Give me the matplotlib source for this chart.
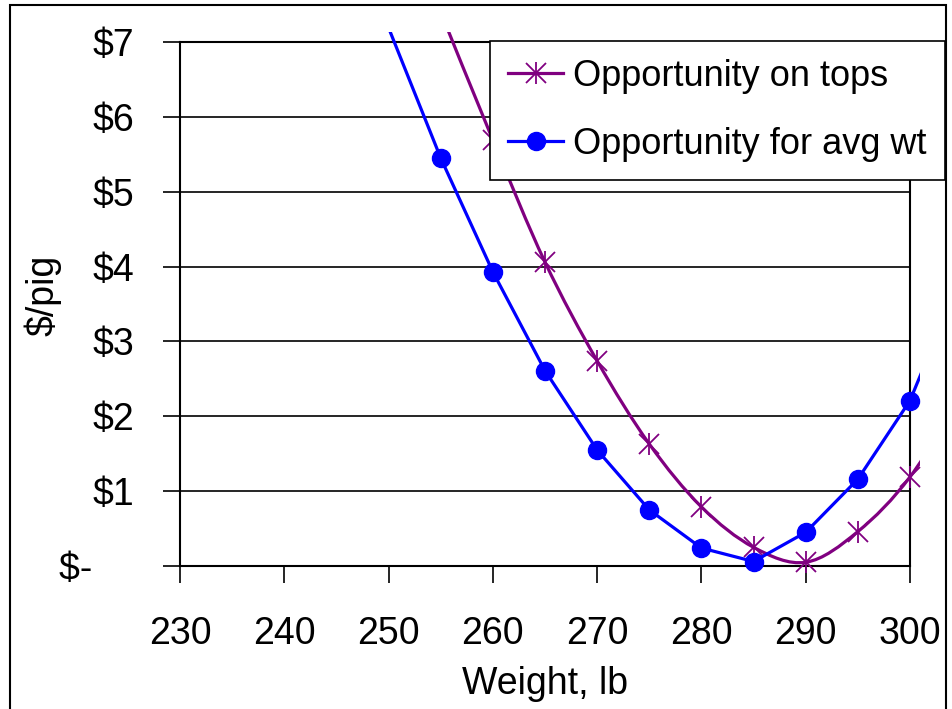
import matplotlib
matplotlib.use("Agg")
import numpy as np
from matplotlib import pyplot as plt
from matplotlib.path import Path
from matplotlib.patches import PathPatch, Rectangle
from matplotlib.lines import Line2D
from matplotlib.transforms import Bbox, TransformedBbox

plt.rcParams["font.family"] = ["Liberation Sans", "DejaVu Sans"]

# weights (lb) and opportunity ($/pig)
tops_wt = [255, 260, 265, 270, 275, 280, 285, 290, 295, 300, 305]
tops_val = [7.40, 5.69, 4.06, 2.74, 1.63, 0.79, 0.25, 0.05, 0.46, 1.19, 2.30]
avg_wt = [250, 255, 260, 265, 270, 275, 280, 285, 290, 295, 300, 305]
avg_val = [7.19, 5.45, 3.93, 2.61, 1.55, 0.75, 0.24, 0.06, 0.45, 1.16, 2.21, 3.90]

x_ticks = [230, 240, 250, 260, 270, 280, 290, 300]
y_ticks = [0, 1, 2, 3, 4, 5, 6, 7]
y_labels = ["$-    ", "$1", "$2", "$3", "$4", "$5", "$6", "$7"]

PURPLE = "#800080"
BLUE = "#0000FF"
LW = 2.3


def smooth_path(xs, ys):
    # Bezier path through the points (Catmull-Rom style control points)
    pts = np.column_stack([xs, ys]).astype(float)
    verts = [pts[0]]
    codes = [Path.MOVETO]
    n = len(pts)
    for i in range(n - 1):
        p0 = pts[i - 1] if i > 0 else pts[i]
        p1, p2 = pts[i], pts[i + 1]
        p3 = pts[i + 2] if i + 2 < n else pts[i + 1]
        verts += [p1 + (p2 - p0) / 6, p2 - (p3 - p1) / 6, p2]
        codes += [Path.CURVE4] * 3
    return Path(verts, codes)


fig = plt.figure(figsize=(9.53, 7.09), dpi=100)
ax = fig.add_axes([180 / 953, 1 - 566 / 709, 730 / 953, 524 / 709])

ax.set_xlim(230, 300)
ax.set_ylim(0, 7)
ax.set_xticks(x_ticks)
ax.set_yticks(y_ticks)
ax.set_yticklabels(y_labels)
ax.tick_params(axis="both", direction="out", length=12, width=1.2, labelsize=27)
ax.tick_params(axis="y", pad=21)
ax.tick_params(axis="x", pad=24)
ax.grid(axis="y", color="black", linewidth=1.2)
ax.set_axisbelow(True)
for s in ax.spines.values():
    s.set_linewidth(1.5)

ax.set_xlabel("Weight, lb", fontsize=27, labelpad=10)
ax.set_ylabel("$/pig", fontsize=27, va="center")
ax.yaxis.set_label_coords((43 - 180) / 730, (566 - 295) / 524)

# lines may run a little past the plot box
line_clip = TransformedBbox(Bbox([[-0.2, -0.2], [(920 - 180) / 730, (566 - 32) / 524]]), ax.transAxes)
mark_clip = TransformedBbox(Bbox([[-0.2, -0.2], [(920 - 180) / 730, 1.0]]), ax.transAxes)

curve = PathPatch(smooth_path(tops_wt, tops_val), facecolor="none", edgecolor=PURPLE,
                  linewidth=LW, zorder=3)
ax.add_patch(curve)

avg_line, = ax.plot(avg_wt, avg_val, color=BLUE, linewidth=LW, zorder=5)

star_x, = ax.plot(tops_wt, tops_val, linestyle="none", marker="x", markersize=14,
                  markeredgewidth=1.3, color=PURPLE, zorder=4)
star_v, = ax.plot(tops_wt, tops_val, linestyle="none", marker="|", markersize=16,
                  markeredgewidth=1.3, color=PURPLE, zorder=4)
dots, = ax.plot(avg_wt, avg_val, linestyle="none", marker="o", markersize=13,
                color=BLUE, zorder=6)

for art in (curve, avg_line):
    art.set_clip_box(line_clip)
    art.set_clip_path(None)
for art in (star_x, star_v, dots):
    art.set_clip_box(mark_clip)
    art.set_clip_path(None)

h_tops = (Line2D([], [], color=PURPLE, linewidth=LW),
          Line2D([], [], linestyle="none", marker="x", markersize=14, markeredgewidth=1.3, color=PURPLE),
          Line2D([], [], linestyle="none", marker="|", markersize=16, markeredgewidth=1.3, color=PURPLE))
h_avg = Line2D([], [], color=BLUE, linewidth=LW, marker="o", markersize=13)

leg = fig.legend([h_tops, h_avg], ["Opportunity on tops", "Opportunity for avg wt"],
                 loc="upper right", bbox_to_anchor=(945 / 953, 1 - 41 / 709),
                 fontsize=26, frameon=True, fancybox=False, framealpha=1,
                 edgecolor="black", handlelength=1.5, handletextpad=0.3,
                 borderpad=0.5, labelspacing=0.9, borderaxespad=0)
leg.get_frame().set_linewidth(1.2)

# outer chart border
fig.patches.append(Rectangle((10 / 953, -0.05), 936 / 953, 1.05 - 5 / 709,
                             transform=fig.transFigure, fill=False,
                             edgecolor="black", linewidth=1.5))

fig.savefig("out.png", dpi=100)
